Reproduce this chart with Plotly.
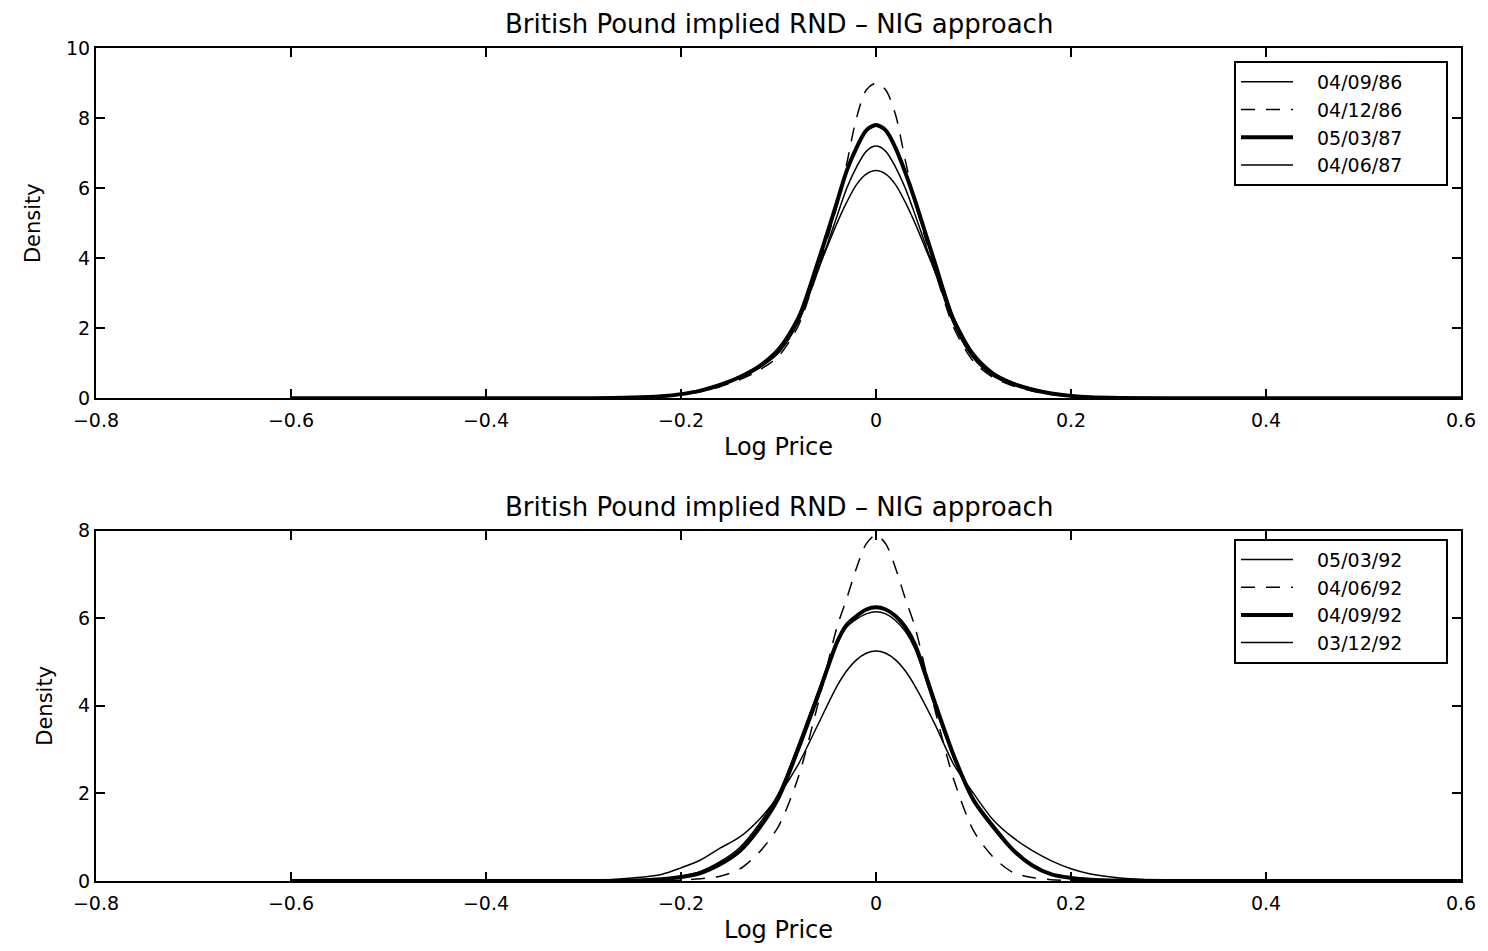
import plotly.graph_objects as go

# ---------------- data ----------------
log_price = [-0.6, -0.3, -0.25, -0.22, -0.2, -0.18, -0.16, -0.14, -0.12, -0.1, -0.08, -0.06,
             -0.04, -0.03, -0.02, -0.01, 0.0, 0.01, 0.02, 0.03, 0.04, 0.06, 0.08, 0.1,
             0.12, 0.14, 0.16, 0.18, 0.2, 0.22, 0.25, 0.3, 0.6]

top_labels = ["04/09/86", "04/12/86", "05/03/87", "04/06/87"]
d_040986 = [0, 0, 0.02, 0.06, 0.12, 0.22, 0.38, 0.6, 0.88, 1.3, 2.15, 3.6, 5.2, 6.0, 6.6, 7.05,
            7.2, 7.05, 6.6, 6.0, 5.25, 3.65, 2.1, 1.15, 0.66, 0.4, 0.24, 0.13, 0.07, 0.03, 0.01, 0, 0]
d_041286 = [0, 0, 0.02, 0.05, 0.1, 0.19, 0.33, 0.53, 0.8, 1.2, 2.05, 3.65, 5.5, 6.7, 8.0, 8.8,
            9.0, 8.8, 8.1, 6.8, 5.6, 3.7, 2.0, 1.05, 0.6, 0.36, 0.21, 0.11, 0.06, 0.03, 0.01, 0, 0]
d_050387 = [0, 0, 0.02, 0.06, 0.12, 0.22, 0.38, 0.6, 0.9, 1.35, 2.25, 3.85, 5.6, 6.5, 7.15, 7.65,
            7.8, 7.65, 7.15, 6.45, 5.65, 3.9, 2.2, 1.2, 0.68, 0.42, 0.25, 0.14, 0.07, 0.03, 0.01, 0, 0]
d_040687 = [0, 0, 0.02, 0.07, 0.13, 0.24, 0.4, 0.63, 0.95, 1.45, 2.35, 3.65, 5.0, 5.6, 6.1, 6.4,
            6.5, 6.4, 6.1, 5.6, 5.0, 3.65, 2.3, 1.3, 0.75, 0.46, 0.28, 0.15, 0.08, 0.04, 0.01, 0, 0]

bottom_labels = ["05/03/92", "04/06/92", "04/09/92", "03/12/92"]
d_050392 = [0, 0, 0.02, 0.05, 0.11, 0.22, 0.44, 0.76, 1.3, 2.0, 3.1, 4.3, 5.45, 5.8, 5.98, 6.1,
            6.15, 6.1, 5.95, 5.7, 5.3, 4.0, 2.8, 1.8, 1.2, 0.7, 0.36, 0.16, 0.08, 0.03, 0.01, 0, 0]
d_040692 = [0, 0, 0, 0.01, 0.02, 0.05, 0.11, 0.27, 0.65, 1.25, 2.35, 4.0, 5.8, 6.45, 7.15, 7.7,
            7.9, 7.7, 7.15, 6.45, 5.8, 3.95, 2.3, 1.15, 0.55, 0.2, 0.08, 0.03, 0.01, 0, 0, 0, 0]
d_040992 = [0, 0, 0.01, 0.04, 0.09, 0.18, 0.38, 0.68, 1.2, 1.9, 3.0, 4.2, 5.45, 5.85, 6.05, 6.2,
            6.25, 6.2, 6.05, 5.8, 5.4, 4.1, 2.85, 1.85, 1.25, 0.72, 0.36, 0.15, 0.07, 0.03, 0.01, 0, 0]
d_031292 = [0, 0, 0.07, 0.15, 0.3, 0.48, 0.75, 1.0, 1.4, 1.95, 2.65, 3.55, 4.45, 4.8, 5.05, 5.2,
            5.25, 5.2, 5.05, 4.8, 4.45, 3.6, 2.65, 2.0, 1.4, 1.0, 0.7, 0.46, 0.28, 0.16, 0.07, 0.01, 0]

x_ticks = [-0.8, -0.6, -0.4, -0.2, 0, 0.2, 0.4, 0.6]
x_ticktext = ["\u22120.8", "\u22120.6", "\u22120.4", "\u22120.2", "0", "0.2", "0.4", "0.6"]
top_yticks = [0, 2, 4, 6, 8, 10]
bottom_yticks = [0, 2, 4, 6, 8]
chart_title = "British Pound implied RND \u2013 NIG approach"

# ---------------- styles ----------------
FONT = "DejaVu Sans"
styles = [dict(width=1.5, dash="solid"), dict(width=1.5, dash="14px,11px"),
          dict(width=4, dash="solid"), dict(width=1.5, dash="solid")]
LEAD = "\u2002\u2002"
TRAIL = "\u2002\u2002\u2002\u2002"

fig = go.Figure()
for lab, ys, st in zip(top_labels, [d_040986, d_041286, d_050387, d_040687], styles):
    fig.add_trace(go.Scatter(x=log_price, y=ys, mode="lines", name=LEAD + lab + TRAIL,
                             line=dict(color="black", shape="spline", smoothing=0.8, **st),
                             xaxis="x", yaxis="y", legend="legend"))
for lab, ys, st in zip(bottom_labels, [d_050392, d_040692, d_040992, d_031292], styles):
    fig.add_trace(go.Scatter(x=log_price, y=ys, mode="lines", name=LEAD + lab + TRAIL,
                             line=dict(color="black", shape="spline", smoothing=0.8, **st),
                             xaxis="x2", yaxis="y2", legend="legend2"))

axis_common = dict(showline=True, linecolor="black", linewidth=2, mirror="ticks",
                   ticks="inside", ticklen=9, tickwidth=2, tickcolor="black",
                   showgrid=False, zeroline=False,
                   tickfont=dict(family=FONT, size=19, color="black"))

# page body has an 8px offset; plot area in screen px: x 96..1462, y 48..400 / 533..885
W, HT = 1480, 943
L, T = 88, 40
PW, H = 1366, 837
R, B = W - L - PW, HT - T - H
top_dom = [(885 - 400) / H, 1.0]
bot_dom = [0.0, (885 - 533) / H]

xa = dict(range=[-0.8, 0.6], tickvals=x_ticks, ticktext=x_ticktext, ticklabelstandoff=4,
          title=dict(text="Log Price", font=dict(family=FONT, size=24, color="black"), standoff=8),
          **axis_common)

legend_common = dict(xanchor="right", yanchor="top", bordercolor="black", borderwidth=2,
                     bgcolor="white", font=dict(family=FONT, size=19, color="black"),
                     itemwidth=52, tracegroupgap=0)

fig.update_layout(
    width=W, height=HT,
    paper_bgcolor="white", plot_bgcolor="white",
    margin=dict(l=L, r=R, t=T, b=B),
    font=dict(family=FONT, color="black"),
    xaxis=dict(domain=[0, 1], anchor="y", **xa),
    yaxis=dict(domain=top_dom, anchor="x", range=[0, 10], tickvals=top_yticks,
               title=dict(text="Density", font=dict(family=FONT, size=21, color="black"), standoff=20),
               **axis_common),
    xaxis2=dict(domain=[0, 1], anchor="y2", **xa),
    yaxis2=dict(domain=bot_dom, anchor="x2", range=[0, 8], tickvals=bottom_yticks,
                title=dict(text="Density", font=dict(family=FONT, size=21, color="black"), standoff=20),
                **axis_common),
    legend=dict(x=(1449 - 96) / PW, y=(885 - 61) / H, **legend_common),
    legend2=dict(x=(1449 - 96) / PW, y=(885 - 541) / H, **legend_common),
    annotations=[
        dict(text=chart_title, x=0.5, y=(885 - 24) / H, xref="paper", yref="paper",
             showarrow=False, font=dict(family=FONT, size=26, color="black"),
             xanchor="center", yanchor="middle"),
        dict(text=chart_title, x=0.5, y=(885 - 509) / H, xref="paper", yref="paper",
             showarrow=False, font=dict(family=FONT, size=26, color="black"),
             xanchor="center", yanchor="middle"),
    ],
    showlegend=True,
)

fig.write_html("out.html")
